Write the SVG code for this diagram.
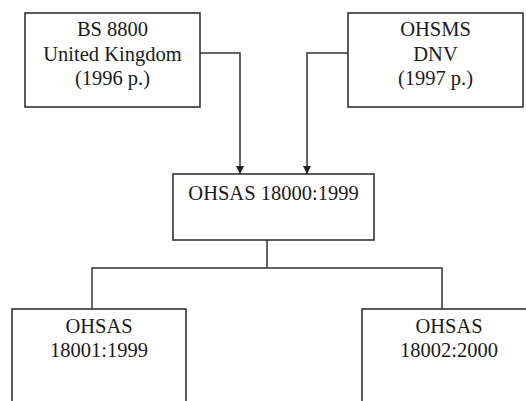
<svg xmlns="http://www.w3.org/2000/svg" width="526" height="401" viewBox="0 0 526 401">
<style>
.box{fill:#fff;stroke:#333;stroke-width:1.6}
.t{font-family:"Liberation Serif","Times New Roman",serif;font-size:20.5px;fill:#1a1a1a;text-anchor:middle}
.c{fill:none;stroke:#333;stroke-width:1.5}
</style>
<defs>
<marker id="arr" markerWidth="8" markerHeight="8" refX="8" refY="4" orient="auto" markerUnits="userSpaceOnUse">
<path d="M0,0 L8,4 L0,8 Z" fill="#222"/>
</marker>
</defs>
<rect width="526" height="401" fill="#fff"/>
<g id="connectors">
<polyline class="c" points="200,53 240,53 240,174" marker-end="url(#arr)"/>
<polyline class="c" points="348,53 307,53 307,174" marker-end="url(#arr)"/>
<polyline class="c" points="267,240 267,268"/>
<polyline class="c" points="92,309 92,268 442,268 442,309"/>
</g>
<g id="bs8800">
<rect class="box" x="25" y="13" width="175" height="94"/>
<text class="t" x="112.5" y="36">BS 8800</text>
<text class="t" x="112.5" y="61">United Kingdom</text>
<text class="t" x="112.5" y="85">(1996 p.)</text>
</g>
<g id="ohsms">
<rect class="box" x="348" y="13" width="175" height="94"/>
<text class="t" x="435.5" y="36">OHSMS</text>
<text class="t" x="435.5" y="61">DNV</text>
<text class="t" x="435.5" y="85">(1997 p.)</text>
</g>
<g id="ohsas18000">
<rect class="box" x="173" y="174" width="201" height="66"/>
<text class="t" x="273.5" y="200">OHSAS 18000:1999</text>
</g>
<g id="ohsas18001">
<rect class="box" x="12" y="309" width="174" height="110"/>
<text class="t" x="99" y="333">OHSAS</text>
<text class="t" x="99" y="357">18001:1999</text>
</g>
<g id="ohsas18002">
<rect class="box" x="362" y="309" width="174" height="110"/>
<text class="t" x="449" y="333">OHSAS</text>
<text class="t" x="449" y="357">18002:2000</text>
</g>
</svg>
